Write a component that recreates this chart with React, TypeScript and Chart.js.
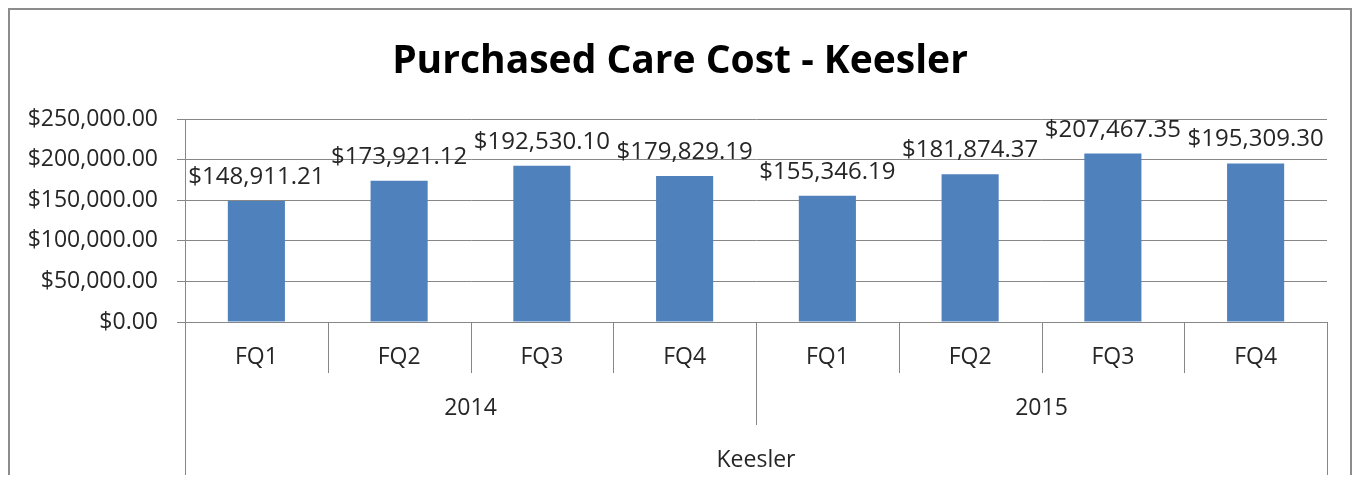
import React, { useEffect, useRef } from "react";
import { Chart, registerables } from "chart.js";

Chart.register(...registerables);

const chartTitle = "Purchased Care Cost - Keesler";
const quarters = ["FQ1", "FQ2", "FQ3", "FQ4", "FQ1", "FQ2", "FQ3", "FQ4"];
const years = ["2014", "2015"];
const groupLabel = "Keesler";
const costs = [148911.21, 173921.12, 192530.1, 179829.19, 155346.19, 181874.37, 207467.35, 195309.3];
const yTicks = [0, 50000, 100000, 150000, 200000, 250000];

const FONT = "'Open Sans', 'DejaVu Sans', sans-serif";
const GRID = "#878787";
const TEXT = "#262626";
const BAR = "#4F81BD";

const fmt = (v: number) =>
  "$" + v.toLocaleString("en-US", { minimumFractionDigits: 2, maximumFractionDigits: 2 });

const decorPlugin = {
  id: "decor",
  afterDatasetsDraw(chart: any) {
    const { ctx } = chart;
    const meta = chart.getDatasetMeta(0);
    ctx.save();
    ctx.font = `24px ${FONT}`;
    ctx.fillStyle = TEXT;
    ctx.textAlign = "center";
    ctx.textBaseline = "alphabetic";
    meta.data.forEach((el: any, i: number) => {
      ctx.fillText(fmt(costs[i]), el.x, el.y - 17);
    });
    ctx.restore();
  },
  afterDraw(chart: any) {
    const { ctx, chartArea } = chart;
    const xs = chart.scales.x;
    const n = quarters.length;
    const perYear = n / years.length;
    const px = (i: number) => xs.getPixelForValue(i);
    const bounds: number[] = [chartArea.left];
    for (let i = 0; i < n - 1; i++) bounds.push((px(i) + px(i + 1)) / 2);
    bounds.push(chartArea.right);
    const base = chartArea.bottom;

    ctx.save();
    ctx.strokeStyle = GRID;
    ctx.lineWidth = 1;
    bounds.forEach((b, i) => {
      let end = base + 51;
      if (i === 0 || i === n) end = chart.height;
      else if (i % perYear === 0) end = base + 103;
      const xx = Math.round(b) + 0.5;
      ctx.beginPath();
      ctx.moveTo(xx, base);
      ctx.lineTo(xx, end);
      ctx.stroke();
    });

    ctx.fillStyle = TEXT;
    ctx.textAlign = "center";
    ctx.textBaseline = "middle";
    ctx.font = `23px ${FONT}`;
    quarters.forEach((q, i) => ctx.fillText(q, px(i), base + 35));
    years.forEach((y, j) => {
      const l = bounds[j * perYear];
      const r = bounds[(j + 1) * perYear];
      ctx.fillText(y, (l + r) / 2, base + 86);
    });
    ctx.fillText(groupLabel, (chartArea.left + chartArea.right) / 2, base + 138);

    ctx.fillStyle = "#000";
    ctx.textBaseline = "alphabetic";
    ctx.font = `bold 39px ${FONT}`;
    ctx.fillText(chartTitle, chart.width / 2, 63);
    ctx.restore();
  },
};

export default function App() {
  const ref = useRef<HTMLCanvasElement>(null);
  useEffect(() => {
    if (!ref.current) return;
    const chart = new Chart(ref.current, {
      type: "bar",
      data: {
        labels: quarters.map((q, i) => `${years[Math.floor(i / 4)]} ${q}`),
        datasets: [
          {
            data: costs,
            backgroundColor: BAR,
            barPercentage: 0.4,
            categoryPercentage: 1,
          },
        ],
      },
      options: {
        animation: false,
        responsive: false,
        layout: { padding: { left: 0, top: 109, right: 23, bottom: 161 } },
        plugins: { legend: { display: false }, tooltip: { enabled: false }, title: { display: false } },
        scales: {
          x: {
            ticks: { display: false },
            grid: { display: false },
            border: { display: false },
            afterFit: (s: any) => {
              s.height = 0;
            },
          },
          y: {
            min: 0,
            max: 250000,
            afterBuildTicks: (s: any) => {
              s.ticks = yTicks.map((v) => ({ value: v }));
            },
            afterFit: (s: any) => {
              s.width = 175;
            },
            border: { display: true, color: GRID, width: 1 },
            grid: { color: GRID, tickLength: 8, drawTicks: true },
            ticks: {
              padding: 19,
              color: TEXT,
              font: { family: FONT, size: 23 },
              callback: (v: any) => fmt(Number(v)),
            },
          },
        },
      },
      plugins: [decorPlugin],
    });
    return () => chart.destroy();
  }, []);

  return (
    <div
      style={{
        width: 1344,
        height: 475,
        border: "2px solid #8c8c8c",
        borderBottom: "none",
        boxSizing: "border-box",
        marginBottom: -8,
        background: "#fff",
      }}
    >
      <canvas ref={ref} width={1340} height={473} style={{ display: "block" }} />
    </div>
  );
}
